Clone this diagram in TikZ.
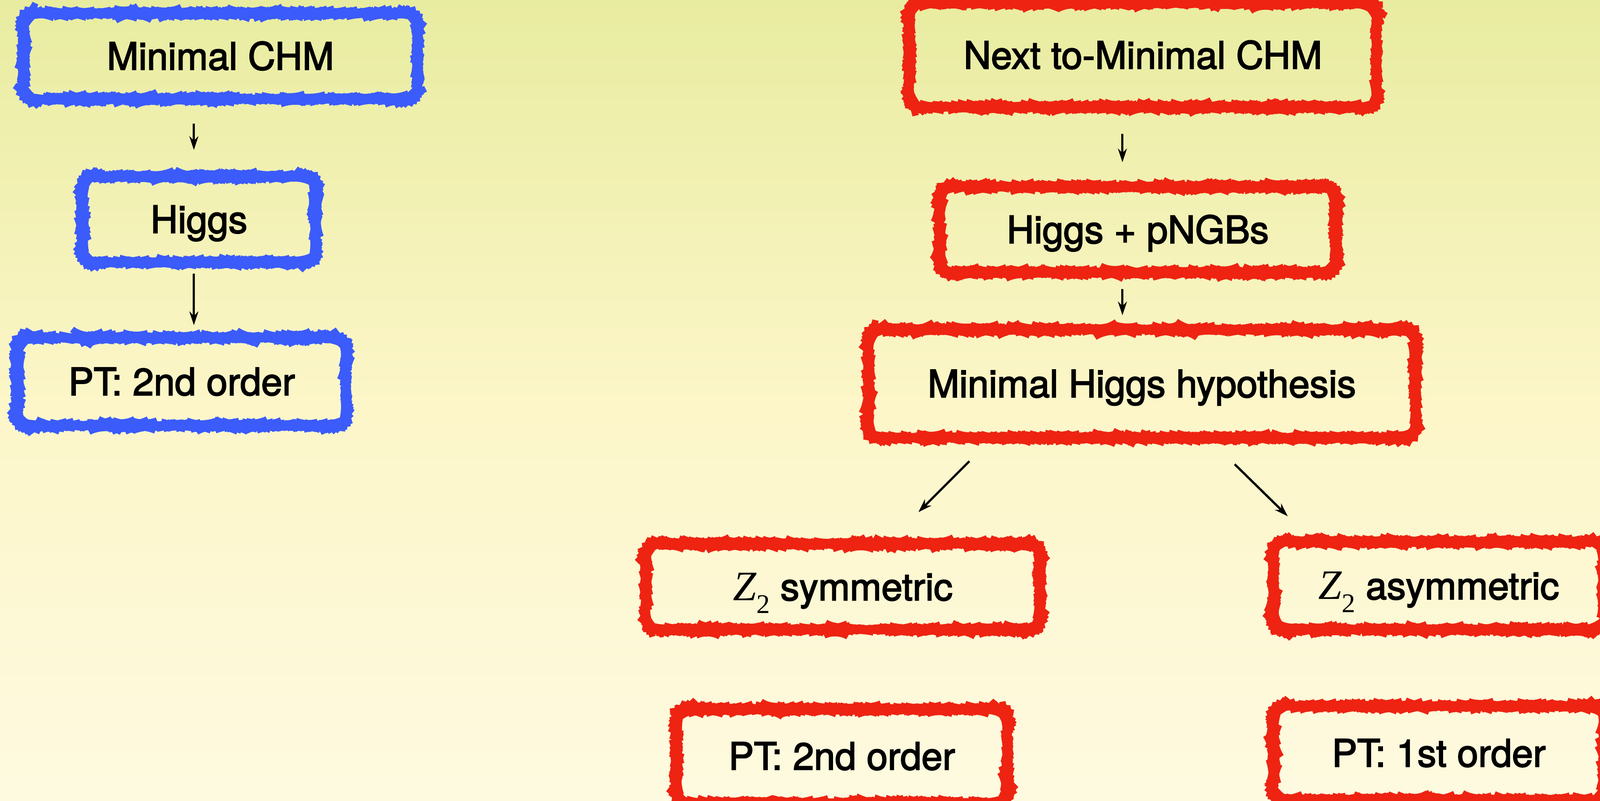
\documentclass[tikz,border=0pt]{standalone}
\usepackage{fontspec}
\setmainfont{TeX Gyre Heros}
\newfontfamily\hvm[FakeBold=2.5]{TeX Gyre Heros}
\newfontfamily\tms{Liberation Serif}
\usetikzlibrary{arrows.meta,decorations.pathmorphing,calc}
\definecolor{bgtop}{RGB}{232,236,160}
\definecolor{bgmid}{RGB}{252,246,200}
\definecolor{bgbot}{RGB}{254,250,224}
\definecolor{chalkblue}{RGB}{59,91,250}
\definecolor{chalkred}{RGB}{238,35,18}
\newcommand\Ztwo{{\tms\itshape\fontsize{28}{30}\selectfont Z}\raisebox{-0.34em}{\tms\fontsize{18}{18}\selectfont 2}}
\tikzset{
  box/.style={draw, line width=0.15cm, rounded corners=0.32cm, inner sep=0pt,
    font=\hvm\fontsize{25.3}{30}\selectfont, text height=18.2pt, text depth=0pt,
    decorate, decoration={random steps, segment length=0.9pt, amplitude=0.22pt}},
  bluebox/.style={box, draw=chalkblue},
  redbox/.style={box, draw=chalkred},
  arr/.style={-{Stealth[length=0.32cm,width=0.21cm]}, line width=1.5pt, black}
}
\begin{document}
\begin{tikzpicture}[x=0.023935cm,y=-0.023935cm]
\useasboundingbox (0,0) rectangle (1568,785);
\fill[top color=bgtop, bottom color=bgbot, middle color=bgmid] (0,0) rectangle (1568,785);
% left column
\node[bluebox, minimum width=9.24cm, minimum height=2.01cm] (mchm) at (216,55) {Minimal CHM};
\node[bluebox, minimum width=5.46cm, minimum height=2.01cm] (higgs) at (195,215) {Higgs};
\node[bluebox, minimum width=7.71cm, minimum height=2.06cm] (pta) at (178,374) {PT: 2nd order};
% right column
\node[redbox, minimum width=10.96cm, minimum height=2.44cm] (nmchm) at (1120,54) {Next to-Minimal CHM};
\node[redbox, minimum width=9.29cm, minimum height=2.01cm] (hp) at (1115,225) {Higgs + pNGBs};
\node[redbox, minimum width=12.83cm, minimum height=2.54cm] (mhh) at (1119,376) {Minimal Higgs hypothesis};
\node[redbox, minimum width=9.24cm, minimum height=2.01cm] (z2s) at (826,575) {\Ztwo\ symmetric};
\node[redbox, minimum width=7.76cm, minimum height=2.06cm] (z2a) at (1410,574) {\Ztwo\ asymmetric};
\node[redbox, minimum width=7.76cm, minimum height=2.20cm] (ptb) at (825,741) {PT: 2nd order};
\node[redbox, minimum width=7.76cm, minimum height=2.20cm] (ptc) at (1410,738) {PT: 1st order};
% arrows
\draw[arr, transform canvas={xshift=-0.12cm}, shorten <=0.5cm, shorten >=0.55cm] (mchm.south -| higgs.north) -- (higgs.north);
\draw[arr, transform canvas={xshift=-0.12cm}, shorten <=0.19cm, shorten >=0.22cm] (higgs.south) -- (higgs.south |- pta.north);
\draw[arr, transform canvas={xshift=-0.36cm}, shorten <=0.55cm, shorten >=0.5cm] (nmchm.south -| hp.north) -- (hp.north);
\draw[arr, transform canvas={xshift=-0.36cm}, shorten <=0.31cm, shorten >=0.26cm] (hp.south) -- (hp.south |- mhh.north);
\coordinate (la) at (950,452);
\coordinate (lb) at (900,502);
\coordinate (ra) at (1210,455);
\coordinate (rb) at (1262,506);
\draw[arr] (la) -- (lb);
\draw[arr] (ra) -- (rb);
\end{tikzpicture}
\end{document}
